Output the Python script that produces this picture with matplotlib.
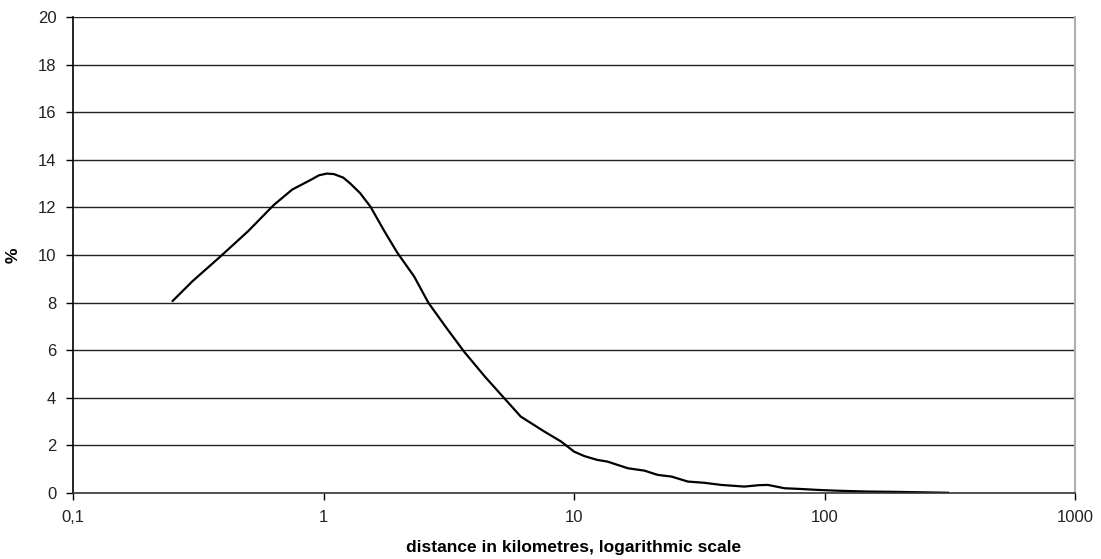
import numpy as np
import matplotlib.pyplot as plt
from matplotlib.ticker import FixedLocator, FixedFormatter, NullLocator

plt.rcParams['font.family'] = ['Liberation Sans', 'DejaVu Sans']

# distance (km) and share (%)
dist_km = [0.25, 0.30, 0.387, 0.5, 0.633, 0.75, 0.887, 0.96, 1.03, 1.1, 1.2, 1.28,
           1.4, 1.54, 1.75, 1.97, 2.3, 2.62, 3.07, 3.64, 4.4, 5.27, 6.13, 7.62,
           8.89, 10.0, 11.0, 12.4, 13.6, 16.4, 19.1, 21.6, 24.5, 28.5,
           33.0, 38.7, 47.8, 55.0, 59.4, 69.2, 80.0, 93.8, 110.0, 127.0,
           150.0, 185.0, 240.0, 311.0]
pct = [8.07, 8.9, 9.93, 11.0, 12.1, 12.75, 13.15, 13.35, 13.42, 13.4, 13.25, 13.0,
       12.6, 12.03, 11.0, 10.1, 9.1, 8.0, 6.99, 5.94, 4.9, 3.98, 3.21, 2.58,
       2.16, 1.74, 1.55, 1.39, 1.32, 1.04, 0.94, 0.76, 0.69, 0.48,
       0.43, 0.34, 0.27, 0.33, 0.34, 0.2, 0.17, 0.13, 0.1, 0.08,
       0.06, 0.05, 0.03, 0.01]

xticks = [0.1, 1, 10, 100, 1000]
xlabels = ['0,1', '1', '10', '100', '1000']
yticks = list(range(0, 21, 2))

fig = plt.figure(figsize=(11.01, 5.59), dpi=100)
ax = fig.add_axes([73 / 1101, 66 / 559, 1002 / 1101, 476 / 559])

ax.plot(dist_km, pct, color='black', lw=1.6)

ax.set_xscale('log')
ax.set_xlim(0.1, 1000)
ax.set_ylim(0, 20)
ax.xaxis.set_major_locator(FixedLocator(xticks))
ax.xaxis.set_major_formatter(FixedFormatter(xlabels))
ax.xaxis.set_minor_locator(NullLocator())
ax.set_yticks(yticks)

for y in yticks[1:]:
    ax.axhline(y, color='#222222', lw=1.0, zorder=0)

ax.spines['top'].set_visible(False)
ax.spines['right'].set_color('#b0b0b0')
ax.spines['right'].set_linewidth(1.5)
ax.spines['left'].set_linewidth(1.2)
ax.spines['bottom'].set_linewidth(1.2)
ax.spines['bottom'].set_color('#333333')

ax.tick_params(axis='both', direction='out', length=5, width=1, colors='black',
               labelsize=12, labelcolor='#222222', pad=7)

ax.set_xlabel('distance in kilometres, logarithmic scale', fontsize=12.5,
              fontweight='bold', labelpad=11)
ax.set_ylabel('%', fontsize=12.5, fontweight='bold', labelpad=12)

fig.savefig('out.png', dpi=100)
